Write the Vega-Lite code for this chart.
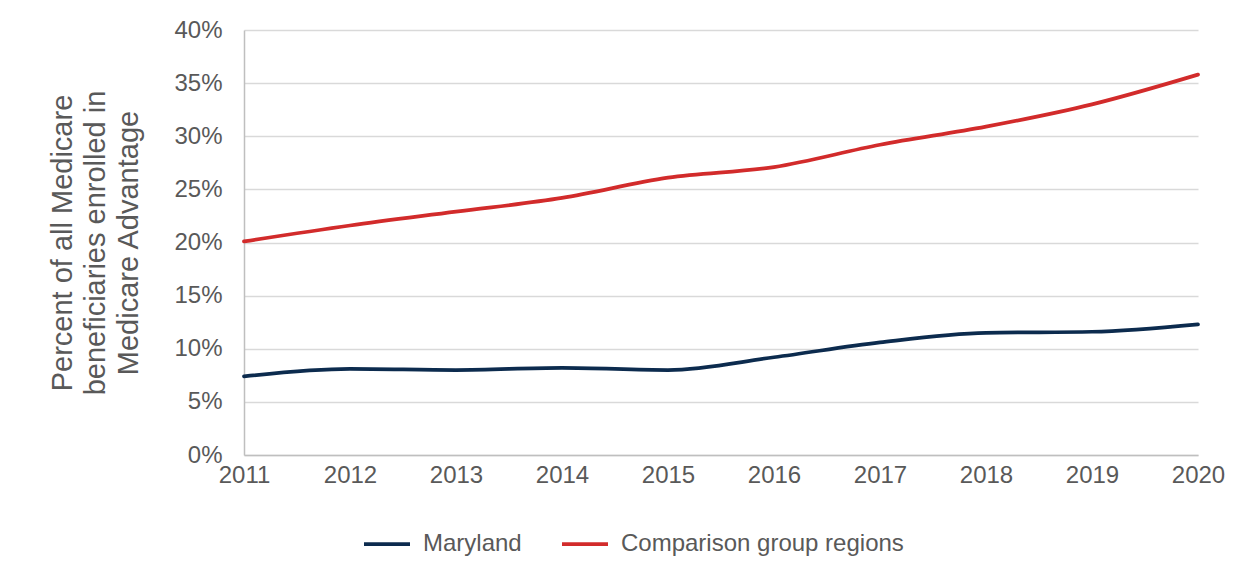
{
  "$schema": "https://vega.github.io/schema/vega-lite/v6.json",
  "autosize": "none",
  "width": 954,
  "height": 425,
  "padding": {"left": 244, "top": 30, "right": 50, "bottom": 118},
  "background": "white",
  "config": {
    "font": "Liberation Sans",
    "view": {"stroke": null}
  },
  "data": {
    "values": [
      {"year": 2011, "series": "Maryland", "pct": 0.074},
      {"year": 2012, "series": "Maryland", "pct": 0.081},
      {"year": 2013, "series": "Maryland", "pct": 0.080},
      {"year": 2014, "series": "Maryland", "pct": 0.082},
      {"year": 2015, "series": "Maryland", "pct": 0.080},
      {"year": 2016, "series": "Maryland", "pct": 0.092},
      {"year": 2017, "series": "Maryland", "pct": 0.106},
      {"year": 2018, "series": "Maryland", "pct": 0.115},
      {"year": 2019, "series": "Maryland", "pct": 0.116},
      {"year": 2020, "series": "Maryland", "pct": 0.123},
      {"year": 2011, "series": "Comparison group regions", "pct": 0.201},
      {"year": 2012, "series": "Comparison group regions", "pct": 0.216},
      {"year": 2013, "series": "Comparison group regions", "pct": 0.229},
      {"year": 2014, "series": "Comparison group regions", "pct": 0.242},
      {"year": 2015, "series": "Comparison group regions", "pct": 0.261},
      {"year": 2016, "series": "Comparison group regions", "pct": 0.271},
      {"year": 2017, "series": "Comparison group regions", "pct": 0.292},
      {"year": 2018, "series": "Comparison group regions", "pct": 0.309},
      {"year": 2019, "series": "Comparison group regions", "pct": 0.330},
      {"year": 2020, "series": "Comparison group regions", "pct": 0.358}
    ]
  },
  "mark": {"type": "line", "interpolate": "monotone", "strokeWidth": 3.75, "strokeCap": "round"},
  "encoding": {
    "x": {
      "field": "year",
      "type": "quantitative",
      "scale": {"domain": [2011, 2020], "nice": false, "zero": false},
      "axis": {
        "title": null,
        "values": [2011, 2012, 2013, 2014, 2015, 2016, 2017, 2018, 2019, 2020],
        "format": "d",
        "grid": false,
        "ticks": false,
        "labelFontSize": 24,
        "labelColor": "#595959",
        "labelPadding": 8,
        "labelFlush": false,
        "labelOverlap": false,
        "domainColor": "#bfbfbf",
        "domainWidth": 1.5
      }
    },
    "y": {
      "field": "pct",
      "type": "quantitative",
      "scale": {"domain": [0, 0.4], "nice": false},
      "axis": {
        "title": ["Percent of all Medicare", "beneficiaries enrolled in", "Medicare Advantage"],
        "titleFontSize": 29,
        "titleFontWeight": "normal",
        "titleColor": "#595959",
        "titlePadding": 30,
        "titleLineHeight": 33,
        "format": ".0%",
        "values": [0, 0.05, 0.1, 0.15, 0.2, 0.25, 0.3, 0.35, 0.4],
        "labelOverlap": false,
        "ticks": false,
        "labelFontSize": 24,
        "labelColor": "#595959",
        "labelPadding": 22,
        "gridColor": "#d9d9d9",
        "gridWidth": 1.5,
        "domainColor": "#bfbfbf",
        "domainWidth": 1.5
      }
    },
    "color": {
      "field": "series",
      "type": "nominal",
      "scale": {"domain": ["Maryland", "Comparison group regions"], "range": ["#0c2b4e", "#d22b2b"]},
      "legend": {
        "title": null,
        "orient": "none",
        "legendX": 118,
        "legendY": 489,
        "direction": "horizontal",
        "symbolType": "stroke",
        "symbolSize": 2116,
        "symbolStrokeWidth": 3.75,
        "labelFontSize": 24,
        "labelLimit": 500,
        "labelColor": "#595959",
        "labelOffset": 11,
        "columnPadding": 32
      }
    }
  }
}
